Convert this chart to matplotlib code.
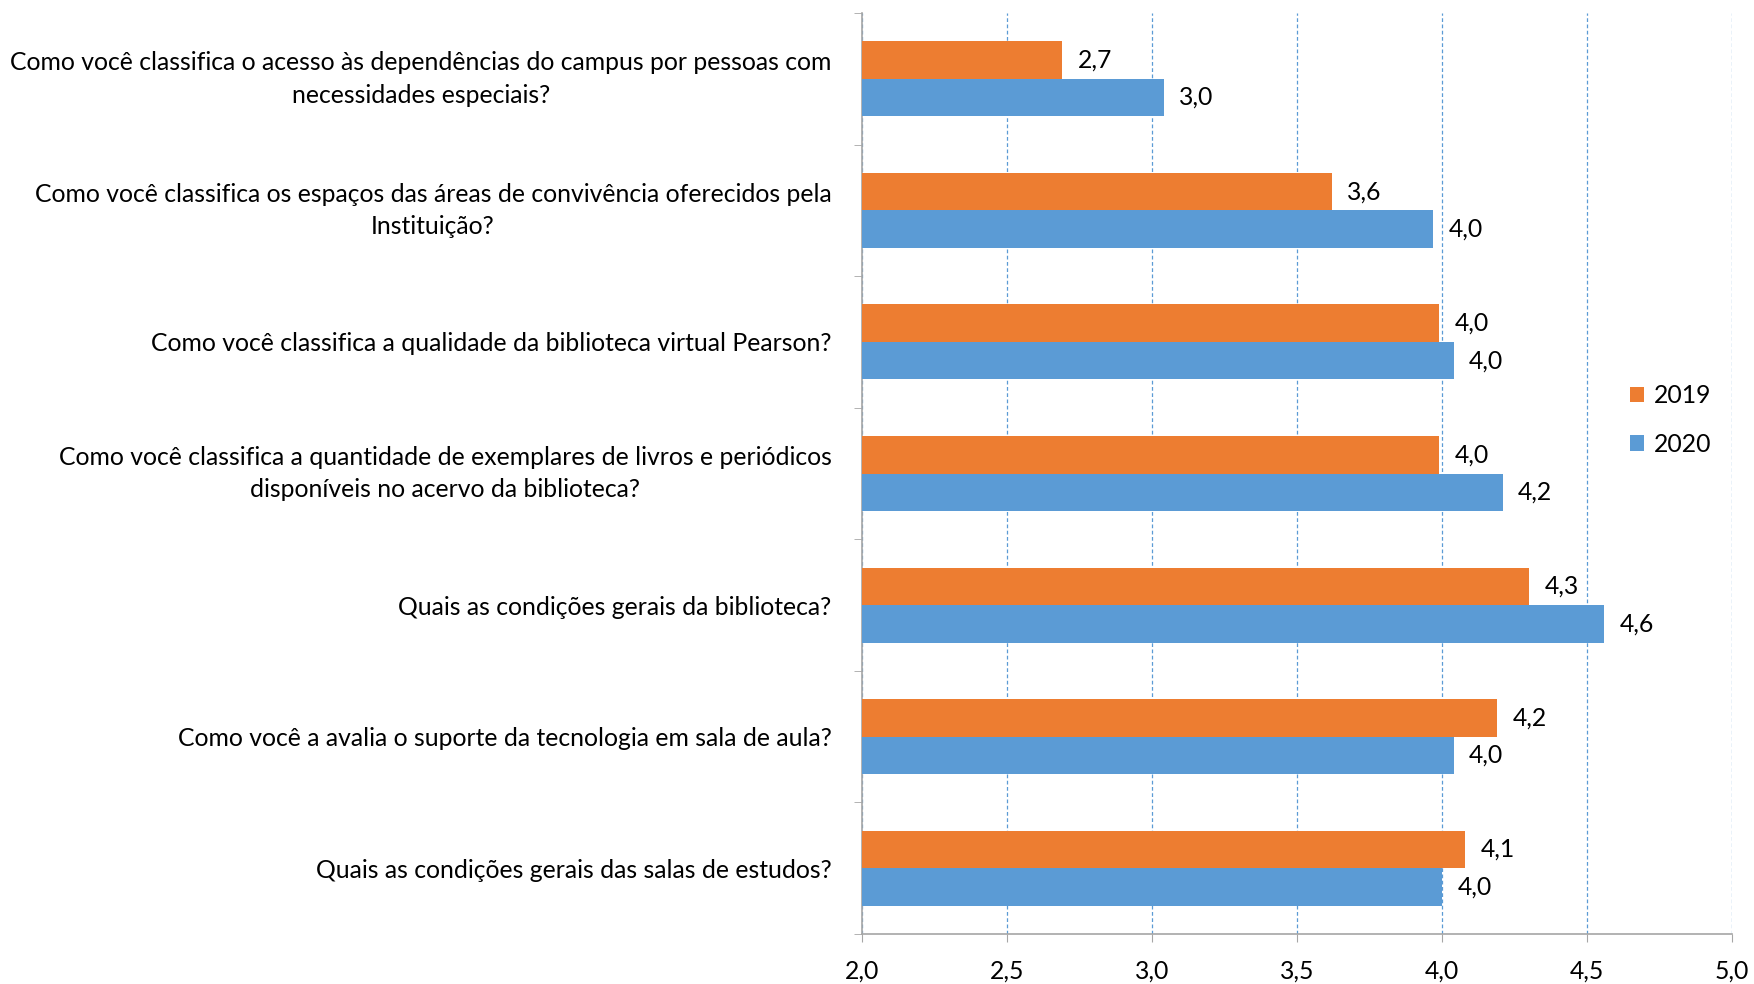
import matplotlib
matplotlib.use("Agg")
import matplotlib.pyplot as plt
import numpy as np

categories = [
    "Como você classifica o acesso às dependências do campus por pessoas com\nnecessidades especiais?",
    "Como você classifica os espaços das áreas de convivência oferecidos pela\nInstituição?",
    "Como você classifica a qualidade da biblioteca virtual Pearson?",
    "Como você classifica a quantidade de exemplares de livros e periódicos\ndisponíveis no acervo da biblioteca?",
    "Quais as condições gerais da biblioteca?",
    "Como você a avalia o suporte da tecnologia em sala de aula?",
    "Quais as condições gerais das salas de estudos?",
]
values_2019 = [2.69, 3.62, 3.99, 3.99, 4.30, 4.19, 4.08]
values_2020 = [3.04, 3.97, 4.04, 4.21, 4.56, 4.04, 4.00]
series_names = ["2019", "2020"]
xticks = [2.0, 2.5, 3.0, 3.5, 4.0, 4.5, 5.0]

plt.rcParams['font.family'] = ['Lato', 'DejaVu Sans']

ORANGE = "#ED7D31"
BLUE = "#5B9BD5"

fig = plt.figure(figsize=(17.54, 9.84), dpi=100)
ax = fig.add_axes([862/1754, 50/984, 870/1754, 921/984])

y = np.arange(len(categories))
h = 0.285
b1 = ax.barh(y - h/2, values_2019, height=h, color=ORANGE, label=series_names[0], zorder=3)
b2 = ax.barh(y + h/2, values_2020, height=h, color=BLUE, label=series_names[1], zorder=3)

fs = 17.8
for bars, vals in ((b1, values_2019), (b2, values_2020)):
    labels = [f"{v:.1f}".replace(".", ",") for v in vals]
    ax.bar_label(bars, labels=labels, padding=11, fontsize=fs, color="black")

ax.set_xlim(2.0, 5.0)
ax.set_ylim(len(categories) - 0.5, -0.5)
ax.set_xticks(xticks)
ax.set_xticklabels([f"{t:.1f}".replace(".", ",") for t in xticks], fontsize=fs)
ax.set_yticks(y)
ax.set_yticklabels(categories, fontsize=fs, multialignment="center", linespacing=1.5)
for lab in ax.get_yticklabels():
    if "\n" in lab.get_text():
        lab.set_verticalalignment("center")
ax.set_yticks(np.arange(-0.5, len(categories)), minor=True)
ax.tick_params(axis="y", which="major", length=0, pad=22)
ax.tick_params(axis="y", which="minor", length=6, color="#A6A6A6", direction="out")
ax.tick_params(axis="x", which="major", length=6, color="#A6A6A6", pad=12.5)

ax.grid(axis="x", color=BLUE, linestyle=(0, (3, 2)), linewidth=0.9, zorder=0)
for s in ("top", "right"):
    ax.spines[s].set_visible(False)
for s in ("left", "bottom"):
    ax.spines[s].set_color("#A6A6A6")
    ax.spines[s].set_linewidth(1.2)
ax.set_facecolor("none")

ax.legend(loc="center left", bbox_to_anchor=(0.868, 0.558), frameon=False,
          fontsize=fs, handlelength=0.6, handleheight=0.6, labelspacing=1.05,
          handletextpad=0.4, borderpad=0)

fig.savefig("out.png", dpi=100)
